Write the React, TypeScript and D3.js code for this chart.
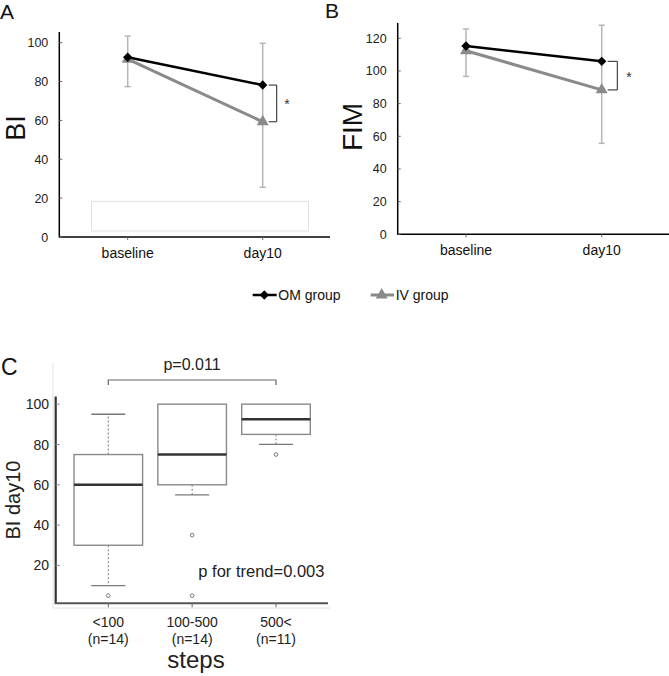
import React from "react";
import * as d3 from "d3";

// ---- Data ----
const timeCats = ["baseline", "day10"];
const biOM = [92.5, 78.2];
const biIV = [91.5, 59.3];
const biErrUpper = [103.4, 99.7];
const biErrLower = [77.4, 25.6];
const biTicks = [0, 20, 40, 60, 80, 100];

const fimOM = [115.3, 105.9];
const fimIV = [112.4, 88.4];
const fimErrUpper = [125.7, 128];
const fimErrLower = [96.7, 55.7];
const fimTicks = [0, 20, 40, 60, 80, 100, 120];

const stepCats = ["<100", "100-500", "500<"];
const stepN = ["(n=14)", "(n=14)", "(n=11)"];
const boxWhiskerLow = [10, 55, 80];
const boxQ1 = [30, 60, 85];
const boxMedian = [60, 75, 92.5];
const boxQ3 = [75, 100, 100];
const boxWhiskerHigh = [95, 100, 100];
const boxOutliers = [[5], [35, 5], [75]];
const cTicks = [20, 40, 60, 80, 100];

const FONT = "'Liberation Sans', Arial, Helvetica, sans-serif";
const OM_COLOR = "#000";
const IV_COLOR = "#8a8a8a";
const ERR_COLOR = "#b5b5b5";

const diamond = d3.symbol().type(d3.symbolSquare).size(44)();
const triangle = d3.symbol().type(d3.symbolTriangle).size(62)();

type LinePanelProps = {
  x0: number; x1: number; xEnd: number;
  yBottom: number; yTopVal: number; yMaxVal: number; axisTop: number; axisX: number;
  ticks: number[];
  om: number[]; iv: number[]; up: number[]; lo: number[];
  bracketX: number; starX: number;
};

function LinePanel(p: LinePanelProps) {
  const x = d3.scalePoint<string>().domain(timeCats).range([p.x0, p.x1]);
  const y = d3.scaleLinear().domain([0, p.yMaxVal]).range([p.yBottom, p.yTopVal]);
  const line = d3.line<number>().x((_, i) => x(timeCats[i])!).y((d) => y(d));
  const di = 1;
  const xb = x(timeCats[di])!;
  return (
    <g>
      {timeCats.map((c, i) => (
        <g key={"e" + c} stroke={ERR_COLOR} strokeWidth={1.5}>
          <line x1={x(c)} x2={x(c)} y1={y(p.up[i])} y2={y(p.lo[i])} />
          <line x1={x(c)! - 3} x2={x(c)! + 3} y1={y(p.up[i])} y2={y(p.up[i])} />
          <line x1={x(c)! - 3} x2={x(c)! + 3} y1={y(p.lo[i])} y2={y(p.lo[i])} />
        </g>
      ))}
      <line x1={p.axisX} x2={p.axisX} y1={p.axisTop} y2={p.yBottom + 0.5} stroke="#000" strokeWidth={1.5} />
      <line x1={p.axisX} x2={p.xEnd} y1={p.yBottom} y2={p.yBottom} stroke="#000" strokeWidth={1.5} />
      {p.ticks.map((t) => (
        <g key={"t" + t}>
          <line x1={p.axisX} x2={p.axisX + 3} y1={y(t)} y2={y(t)} stroke="#666" strokeWidth={1} />
          <text x={p.axisX - 11} y={y(t)} dy="0.36em" textAnchor="end" fontSize={12.5} fill="#222" fontFamily={FONT}>{t}</text>
        </g>
      ))}
      {timeCats.map((c) => (
        <g key={"x" + c}>
          <line x1={x(c)} x2={x(c)} y1={p.yBottom} y2={p.yBottom + 3} stroke="#666" />
          <text x={x(c)} y={p.yBottom + 21} textAnchor="middle" fontSize={14} fill="#111" fontFamily={FONT}>{c}</text>
        </g>
      ))}
      <path d={line(p.iv)!} fill="none" stroke={IV_COLOR} strokeWidth={3} />
      <path d={line(p.om)!} fill="none" stroke={OM_COLOR} strokeWidth={2.5} />
      {p.iv.map((v, i) => (
        <path key={"iv" + i} d={triangle} transform={`translate(${x(timeCats[i])},${y(v)})`} fill={IV_COLOR} />
      ))}
      {p.om.map((v, i) => (
        <path key={"om" + i} d={diamond} transform={`translate(${x(timeCats[i])},${y(v)}) rotate(45)`} fill={OM_COLOR} />
      ))}
      <path
        d={`M${xb + 6},${y(p.om[di])}H${p.bracketX}V${y(p.iv[di])}H${xb + 6}`}
        fill="none" stroke="#222" strokeWidth={1}
      />
      <text x={p.starX} y={(y(p.om[di]) + y(p.iv[di])) / 2 + 6} textAnchor="middle" fontSize={14} fill="#333" fontFamily={FONT}>*</text>
    </g>
  );
}

function BoxPanel() {
  const x = d3.scalePoint<string>().domain(stepCats).range([108.3, 276]);
  const y = d3.scaleLinear().domain([1.2, 103.8]).range([603.3, 396.5]);
  const hw = 34.3;
  const cw = 17;
  const axisX = 55.7;
  return (
    <g>
      <line x1={53} x2={53} y1={363} y2={608} stroke="#e2e2e2" strokeWidth={1} />
      <line x1={53} x2={330} y1={608} y2={608} stroke="#e2e2e2" strokeWidth={1} />
      <line x1={axisX} x2={axisX} y1={y(103.8)} y2={y(1.2)} stroke="#333" strokeWidth={2.2} />
      <line x1={axisX - 1} x2={328} y1={y(1.2)} y2={y(1.2)} stroke="#555" strokeWidth={2} />
      {cTicks.map((t) => (
        <g key={"ct" + t}>
          <line x1={axisX} x2={axisX + 4} y1={y(t)} y2={y(t)} stroke="#888" strokeWidth={1} />
          <text x={49} y={y(t)} dy="0.36em" textAnchor="end" fontSize={14} fill="#222" fontFamily={FONT}>{t}</text>
        </g>
      ))}
      {stepCats.map((c, i) => {
        const cx = x(c)!;
        return (
          <g key={"box" + c}>
            <line x1={cx} x2={cx} y1={y(1.2)} y2={y(1.2) + 4} stroke="#666" />
            <text x={cx} y={626.7} textAnchor="middle" fontSize={14} fill="#222" fontFamily={FONT}>{c}</text>
            <text x={cx} y={644} textAnchor="middle" fontSize={14} fill="#222" fontFamily={FONT}>{stepN[i]}</text>
            {boxWhiskerHigh[i] > boxQ3[i] && (
              <g>
                <line x1={cx} x2={cx} y1={y(boxQ3[i])} y2={y(boxWhiskerHigh[i])} stroke="#777" strokeDasharray="2,2" />
                <line x1={cx - cw} x2={cx + cw} y1={y(boxWhiskerHigh[i])} y2={y(boxWhiskerHigh[i])} stroke="#777" strokeWidth={1.3} />
              </g>
            )}
            {boxWhiskerLow[i] < boxQ1[i] && (
              <g>
                <line x1={cx} x2={cx} y1={y(boxQ1[i])} y2={y(boxWhiskerLow[i])} stroke="#777" strokeDasharray="2,2" />
                <line x1={cx - cw} x2={cx + cw} y1={y(boxWhiskerLow[i])} y2={y(boxWhiskerLow[i])} stroke="#777" strokeWidth={1.3} />
              </g>
            )}
            <rect x={cx - hw} y={y(boxQ3[i])} width={hw * 2} height={y(boxQ1[i]) - y(boxQ3[i])} fill="#fff" stroke="#8a8a8a" strokeWidth={1.4} />
            <line x1={cx - hw} x2={cx + hw} y1={y(boxMedian[i])} y2={y(boxMedian[i])} stroke="#333" strokeWidth={2.5} />
            {boxOutliers[i].map((o, j) => (
              <circle key={j} cx={cx} cy={y(o)} r={1.8} fill="none" stroke="#777" strokeWidth={1} />
            ))}
          </g>
        );
      })}
      <path d={`M${x(stepCats[0])},385V380H${x(stepCats[2])}V385`} fill="none" stroke="#666" strokeWidth={1.2} />
      <text x={192} y={370} textAnchor="middle" fontSize={16} fill="#222" fontFamily={FONT}>p=0.011</text>
      <text x={198.3} y={576.7} fontSize={16.5} fill="#222" fontFamily={FONT}>p for trend=0.003</text>
      <text transform="translate(20,500) rotate(-90)" textAnchor="middle" fontSize={20} fill="#222" fontFamily={FONT}>BI day10</text>
      <text x={196} y={668} textAnchor="middle" fontSize={24} fill="#222" fontFamily={FONT}>steps</text>
      <text x={1} y={375} fontSize={23} fill="#111" fontFamily={FONT}>C</text>
    </g>
  );
}

export default function App() {
  return (
    <svg width={669} height={676} style={{ position: "absolute", left: 0, top: 0, background: "#fff" }}>
      <rect width={669} height={676} fill="#fff" />
      <text x={0} y={18.5} fontSize={21} fill="#111" fontFamily={FONT}>A</text>
      <rect x={91.7} y={201.3} width={216.6} height={29.7} fill="none" stroke="#e0e0e0" strokeWidth={1} />
      <LinePanel
        x0={127.7} x1={262.7} xEnd={330}
        yBottom={237} yTopVal={42.7} yMaxVal={100} axisTop={32} axisX={59.3}
        ticks={biTicks}
        om={biOM} iv={biIV} up={biErrUpper} lo={biErrLower}
        bracketX={276.7} starX={287}
      />
      <text transform="translate(25,128) rotate(-90)" textAnchor="middle" fontSize={27} fill="#111" fontFamily={FONT}>BI</text>

      <text x={325} y={18} fontSize={21} fill="#111" fontFamily={FONT}>B</text>
      <LinePanel
        x0={466} x1={601.7} xEnd={669}
        yBottom={234.3} yTopVal={38.3} yMaxVal={120} axisTop={23} axisX={397.7}
        ticks={fimTicks}
        om={fimOM} iv={fimIV} up={fimErrUpper} lo={fimErrLower}
        bracketX={617.3} starX={629}
      />
      <text transform="translate(361.5,127) rotate(-90)" textAnchor="middle" fontSize={28} fill="#111" fontFamily={FONT}>FIM</text>

      <g fontFamily={FONT} fontSize={14} fill="#111">
        <line x1={252.7} x2={276.7} y1={295} y2={295} stroke={OM_COLOR} strokeWidth={2.5} />
        <path d={diamond} transform="translate(264.3,295) rotate(45)" fill={OM_COLOR} />
        <text x={278.3} y={295} dy="0.36em">OM group</text>
        <line x1={370.7} x2={394} y1={295} y2={295} stroke={IV_COLOR} strokeWidth={3} />
        <path d={triangle} transform="translate(381.7,295)" fill={IV_COLOR} />
        <text x={395.7} y={295} dy="0.36em">IV group</text>
      </g>

      <BoxPanel />
    </svg>
  );
}
